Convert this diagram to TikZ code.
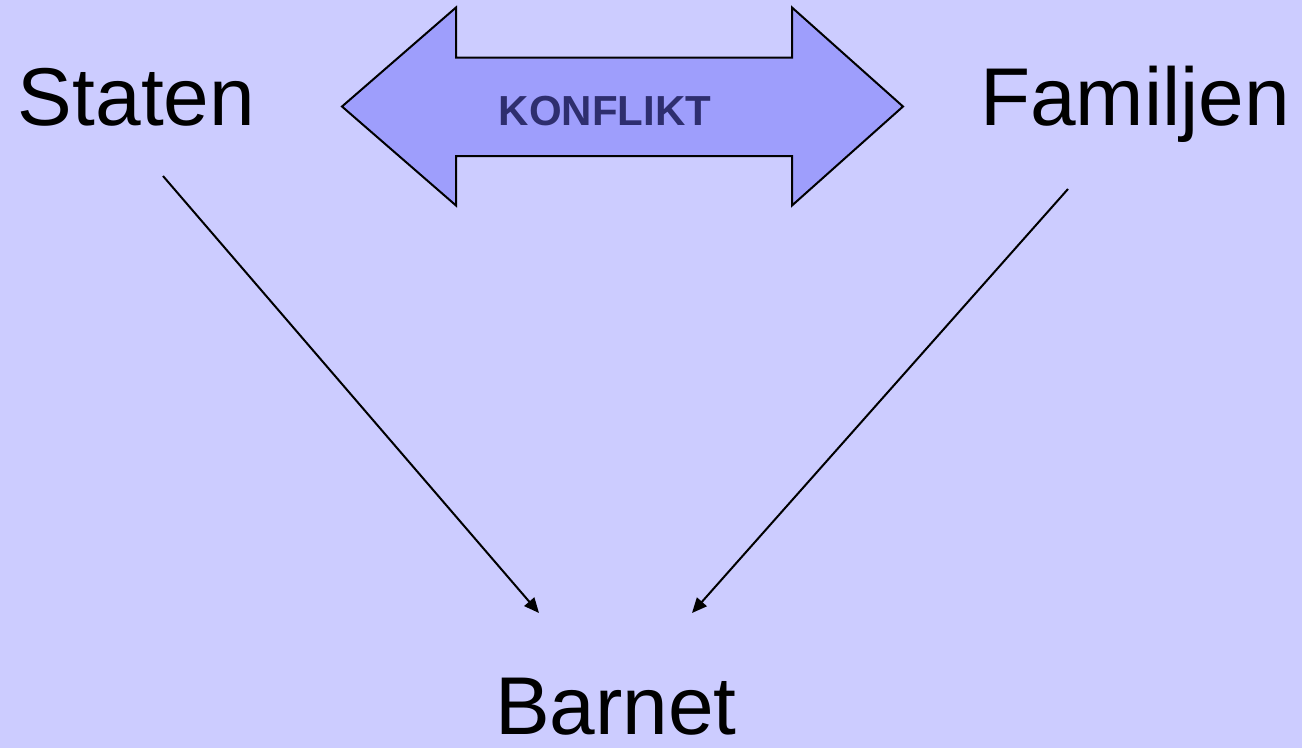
\documentclass[tikz,border=0pt]{standalone}
\usepackage{fontspec}
\setmainfont{Liberation Sans}
\usetikzlibrary{arrows.meta}
\definecolor{bgcol}{RGB}{204,204,255}
\definecolor{arrowfill}{RGB}{158,158,252}
\definecolor{konfcol}{RGB}{46,46,110}
\tikzset{
  bigtext/.style={inner sep=0pt, anchor=base, font=\fontsize{82}{98}\selectfont, text=black},
  conftext/.style={inner sep=0pt, anchor=base, font=\fontsize{42}{50}\selectfont\bfseries, text=konfcol},
  conflictarrow/.style={fill=arrowfill, draw=black, line width=2pt, line join=miter},
  connector/.style={draw=black, line width=2pt, -{Triangle[length=15pt,width=13pt]}}
}
\begin{document}
\begin{tikzpicture}[x=1pt,y=-1pt]
  \fill[bgcol] (0,0) rectangle (1302,748);
  \useasboundingbox (0,0) rectangle (1302,748);
  % conflict double arrow
  \draw[conflictarrow] (342,106.5) -- (456,7.5) -- (456,57.5) -- (792,57.5) -- (792,7.5)
      -- (903,106.5) -- (792,205.5) -- (792,156) -- (456,156) -- (456,205.5) -- cycle;
  \node[conftext] (konflikt) at (605,125) {KONFLIKT};
  % text nodes
  \node[bigtext] (staten) at (136.5,125) {Staten};
  \node[bigtext] (familjen) at (1135,125) {Familjen};
  \node[bigtext] (barnet) at (616,734) {Barnet};
  % connector ends
  \coordinate (statenOut) at (163,176);
  \coordinate (familjenOut) at (1068,189);
  \coordinate (barnetInL) at (539,613);
  \coordinate (barnetInR) at (692,613);
  \draw[connector] (statenOut) -- (barnetInL);
  \draw[connector] (familjenOut) -- (barnetInR);
\end{tikzpicture}
\end{document}
